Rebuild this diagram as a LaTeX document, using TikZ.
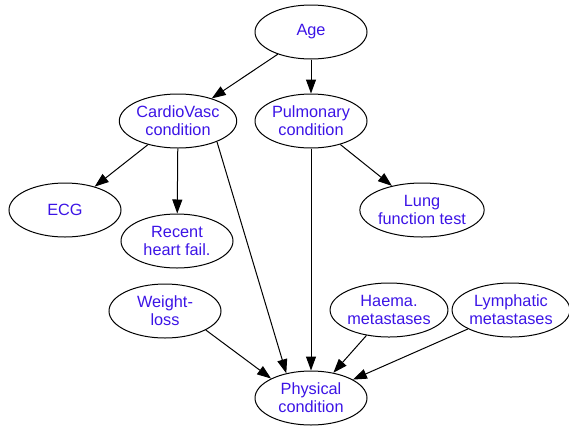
\documentclass[tikz,border=0pt]{standalone}
\usepackage{fontspec}
\setmainfont{Liberation Sans}
\usetikzlibrary{shapes.geometric,arrows.meta}
\definecolor{lbl}{RGB}{60,20,230}
\begin{document}
\begin{tikzpicture}[x=1pt,y=-1pt,
  nd/.style={draw,line width=1pt,ellipse,minimum width=112pt,minimum height=54pt,inner sep=0pt,
    text=lbl,font=\fontsize{16.3}{18}\selectfont,align=center},
  ed/.style={draw,line width=1pt,-{Triangle[length=14pt,width=10pt]}}]
\useasboundingbox (0,0) rectangle (569,426);
\node[nd] (age) at (311,32) {Age};
\node[nd] (cardio) at (178,121) {CardioVasc\\condition};
\node[nd] (pulm) at (311,121) {Pulmonary\\condition};
\node[nd] (ecg) at (65,210) {ECG};
\node[nd] (recent) at (177,241) {Recent\\heart fail.};
\node[nd] (lung) at (422,210) {Lung\\function test};
\node[nd] (weight) at (165,311) {Weight-\\loss};
\node[nd] (haema) at (389,310) {Haema.\\metastases};
\node[nd, minimum width=112pt] (lymph) at (511,310) {Lymphatic\\metastases};
\node[nd] (phys) at (311,398) {Physical\\condition};
\draw[ed] (age) -- (cardio);
\draw[ed] (age) -- (pulm);
\draw[ed] (cardio) -- (ecg);
\draw[ed] (cardio) -- (recent);
\draw[ed] (cardio.-28) -- (phys.135);
\draw[ed] (pulm) -- (lung);
\draw[ed] (pulm) -- (phys);
\draw[ed] (weight.-25) -- (phys.154);
\draw[ed] (haema) -- (phys);
\draw[ed] (lymph) -- (phys);
\end{tikzpicture}
\end{document}
